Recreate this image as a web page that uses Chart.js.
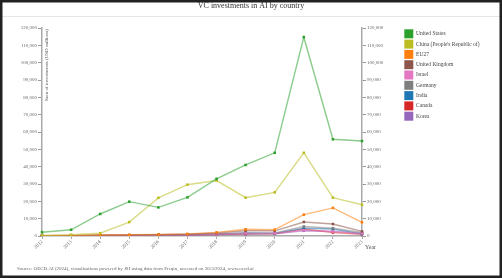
<!DOCTYPE html>
<html><head><meta charset="utf-8">
<script src="https://cdn.jsdelivr.net/npm/chart.js@4"></script>
<style>html,body{margin:0;padding:0;background:#fff;}#w{position:absolute;left:0;top:0;width:502px;height:278px;}</style>
</head><body><div id="w"><canvas id="c" width="502" height="278"></canvas></div>
<script>
const years = ['2012','2013','2014','2015','2016','2017','2018','2019','2020','2021','2022','2023'];
const countries = ['United States','China (People\'s Republic of)','EU27','United Kingdom','Israel','Germany','India','Canada','Korea'];
const unitedStates = [2200, 3600, 12700, 19800, 16500, 22300, 33000, 41000, 48000, 114700, 55800, 54800];
const china = [300, 700, 1600, 8000, 22000, 29600, 32000, 22100, 25200, 48000, 22100, 18000];
const eu27 = [200, 300, 600, 700, 900, 1200, 2100, 3900, 3700, 12300, 16200, 7900];
const unitedKingdom = [100, 200, 400, 500, 800, 1000, 1700, 3000, 3000, 8100, 6900, 2700];
const israel = [100, 100, 300, 400, 500, 700, 1000, 1500, 1500, 3300, 2500, 1500];
const germany = [50, 100, 200, 300, 500, 800, 1200, 1800, 1800, 5500, 4500, 2000];
const india = [100, 200, 300, 500, 700, 900, 1100, 1700, 1500, 4500, 4000, 1200];
const canada = [100, 150, 300, 400, 500, 700, 900, 1200, 1300, 4000, 2000, 1000];
const korea = [50, 100, 200, 300, 400, 600, 800, 1000, 1200, 3000, 2800, 1500];
const yTicks = [0,10000,20000,30000,40000,50000,60000,70000,80000,90000,100000,110000,120000];
const seriesValues = [unitedStates, china, eu27, unitedKingdom, israel, germany, india, canada, korea];
const colors = ['#2ca02c','#bcbd22','#ff7f0e','#8c564b','#e377c2','#7f7f7f','#1f77b4','#d62728','#9467bd'];
const titleText = 'VC investments in AI by country';
const yTitle = 'Sum of investments (USD millions)';
const xTitle = 'Year';
const sourceText = 'Source: OECD.AI (2024), visualisations powered by JSI using data from Preqin, accessed on 26/3/2024, www.oecd.ai';

function hexA(h, a){const r=parseInt(h.slice(1,3),16),g=parseInt(h.slice(3,5),16),b=parseInt(h.slice(5,7),16);return `rgba(${r},${g},${b},${a})`;}
const FONT = 'Liberation Serif';

const datasets = countries.map((n,i)=>({
  label:n, data:seriesValues[i], yAxisID:'y',
  borderColor:hexA(colors[i],0.55), backgroundColor:colors[i],
  borderWidth:1.4, pointStyle:'rect', pointRadius:1.8, pointBorderWidth:0,
  pointBackgroundColor:colors[i], tension:0
}));

const extras = {
  id:'extras',
  beforeLayout(chart){
    const lg = chart.legend;
    if (lg && !lg._patched){ const f = lg.fit; lg.fit = function(){ f.call(this); this.width = 99; }; lg._patched = true; }
  },
  beforeDraw(chart){
    const ctx = chart.ctx; ctx.save();
    ctx.fillStyle='#fff'; ctx.fillRect(0,0,chart.width,chart.height);
    ctx.strokeStyle='#e6e6e6'; ctx.lineWidth=1;
    ctx.beginPath(); ctx.moveTo(2,16.5); ctx.lineTo(500,16.5); ctx.stroke();
    ctx.restore();
  },
  afterDraw(chart){
    const ctx = chart.ctx, a = chart.chartArea; ctx.save();
    ctx.fillStyle='#555'; ctx.font = `5px "${FONT}"`;
    ctx.translate(a.left+5, a.top+1); ctx.rotate(-Math.PI/2);
    ctx.textAlign='right'; ctx.textBaseline='middle';
    ctx.fillText(yTitle, 0, 0);
    ctx.restore(); ctx.save();
    ctx.fillStyle='#555'; ctx.font = `6px "${FONT}"`; ctx.textBaseline='middle'; ctx.textAlign='left';
    ctx.fillText(xTitle, a.right+3, 247);
    ctx.font = `5px "${FONT}"`; ctx.fillStyle='#666';
    ctx.fillText(sourceText, 17, 269);
    ctx.strokeStyle='#222'; ctx.lineWidth=2.5;
    ctx.strokeRect(1.25,1.25,chart.width-2.5,chart.height-2.5);
    ctx.restore();
  }
};

const tickFmt = v => Number(v).toLocaleString('en-US');
new Chart(document.getElementById('c'), {
  type:'line',
  data:{labels:years, datasets},
  plugins:[extras],
  options:{
    responsive:false, animation:false, devicePixelRatio:1,
    layout:{padding:{left:0,right:0,top:0,bottom:0}},
    plugins:{
      title:{display:true, text:titleText, color:'#333', font:{family:FONT,size:8,weight:'normal'}, padding:{top:1,bottom:17.4}},
      legend:{display:true, position:'right', align:'start', fullSize:false,
        labels:{boxWidth:9, boxHeight:9, padding:1.3, color:'#444', font:{family:FONT,size:5.5},
          generateLabels(chart){ return Chart.defaults.plugins.legend.labels.generateLabels(chart).map(l=>({...l, lineWidth:0, strokeStyle:'rgba(0,0,0,0)'})); }
        }},
      tooltip:{enabled:false}
    },
    scales:{
      x:{type:'category', offset:false,
        grid:{display:true, drawOnChartArea:false, tickLength:3, color:'#aaa'},
        border:{display:true, color:'#aaa', width:1.5},
        ticks:{autoSkip:false, maxRotation:45, minRotation:45, padding:0, color:'#666', font:{family:FONT,size:5}},
        afterFit(s){ s.height = 42; }
      },
      y:{type:'linear', position:'left', min:0, max:120000,
        afterBuildTicks(s){ s.ticks = yTicks.map(v=>({value:v})); },
        grid:{display:true, drawOnChartArea:false, tickLength:4, color:'#999'},
        border:{display:true, color:'#aaa', width:1.5},
        ticks:{padding:1, color:'#666', font:{family:FONT,size:5}, callback:tickFmt},
        afterFit(s){ s.width = 42; }
      },
      y1:{type:'linear', position:'right', min:0, max:120000,
        afterBuildTicks(s){ s.ticks = yTicks.map(v=>({value:v})); },
        grid:{display:true, drawOnChartArea:false, tickLength:4, color:'#999'},
        border:{display:true, color:'#aaa', width:1.5},
        ticks:{padding:1, color:'#666', font:{family:FONT,size:5}, callback:tickFmt},
        afterFit(s){ s.width = 41; }
      }
    }
  }
});
</script></body></html>
